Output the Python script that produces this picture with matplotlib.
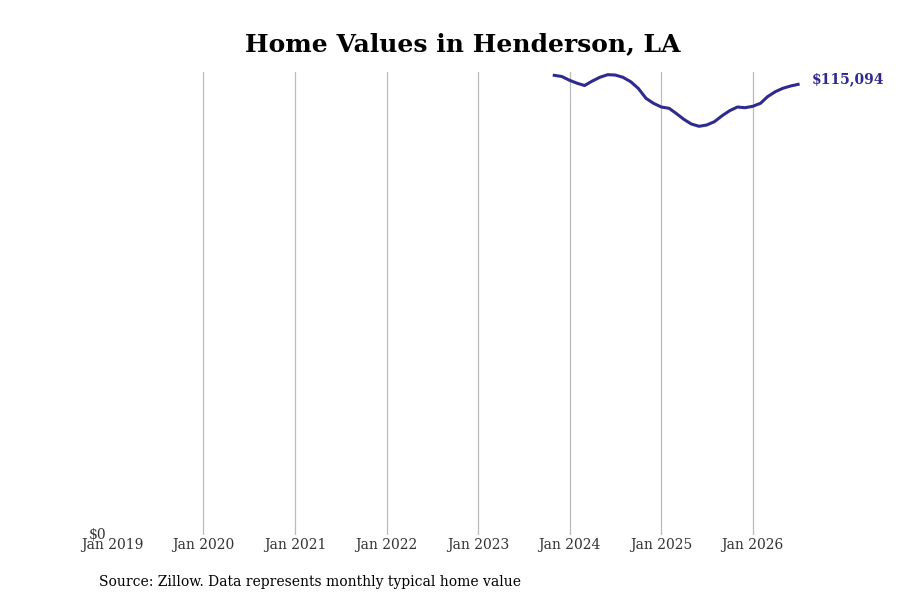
import numpy as np
import pandas as pd
import matplotlib
matplotlib.use("Agg")
import matplotlib.pyplot as plt

# ---------- data ----------
start_month = "2023-11-01"
home_values = [
    117400, 117100, 116130, 115360, 114800, 115950, 116900, 117560,
    117480, 116900, 115770, 114090, 111530, 110260, 109310, 108980,
    107700, 106170, 104970, 104380, 104710, 105560, 107090, 108370,
    109310, 109130, 109490, 110260, 111940, 113220, 114090, 114670,
    115094,
]
tick_years = [2019, 2020, 2021, 2022, 2023, 2024, 2025, 2026]
tick_labels = [f"Jan {y}" for y in tick_years]

LINE_COLOR = "#2e2a8f"
TITLE = "Home Values in Henderson, LA"
SOURCE = "Source: Zillow. Data represents monthly typical home value"

dates = pd.date_range(start_month, periods=len(home_values), freq="MS")

plt.rcParams["font.family"] = "DejaVu Serif"

fig = plt.figure(figsize=(9, 6), dpi=100)
ax = fig.add_axes([0.1244, 0.1083, 0.771, 0.7717])

ax.plot(dates, home_values, color=LINE_COLOR, linewidth=2.2)

last = home_values[-1]
ax.annotate(f"${last:,.0f}", xy=(dates[-1], last), xytext=(10, 4),
            textcoords="offset points", va="center", ha="left",
            fontsize=10, fontweight="bold", color=LINE_COLOR)

ax.set_xlim(pd.Timestamp("2019-01-01"), pd.Timestamp("2026-08-01"))
ax.set_ylim(0, 118250)

ax.set_xticks([pd.Timestamp(f"{y}-01-01") for y in tick_years])
ax.set_xticklabels(tick_labels)
ax.set_yticks([0])
ax.set_yticklabels(["$0"])
ax.tick_params(axis="both", length=0, labelsize=10, labelcolor="#333333")
ax.tick_params(axis="x", pad=2.5)
ax.tick_params(axis="y", pad=4)
for lbl in ax.get_yticklabels():
    lbl.set_verticalalignment("center")

ax.grid(axis="x", color="#bbbbbb", linewidth=0.9)
ax.grid(axis="y", visible=False)
ax.get_xgridlines()[0].set_visible(False)
for s in ax.spines.values():
    s.set_visible(False)

fig.text(0.514, 0.926, TITLE, ha="center", va="center",
         fontsize=18, fontweight="bold", color="black")
fig.text(0.11, 0.03, SOURCE, ha="left", va="center", fontsize=10, color="black")

fig.savefig("out.png", dpi=100)
